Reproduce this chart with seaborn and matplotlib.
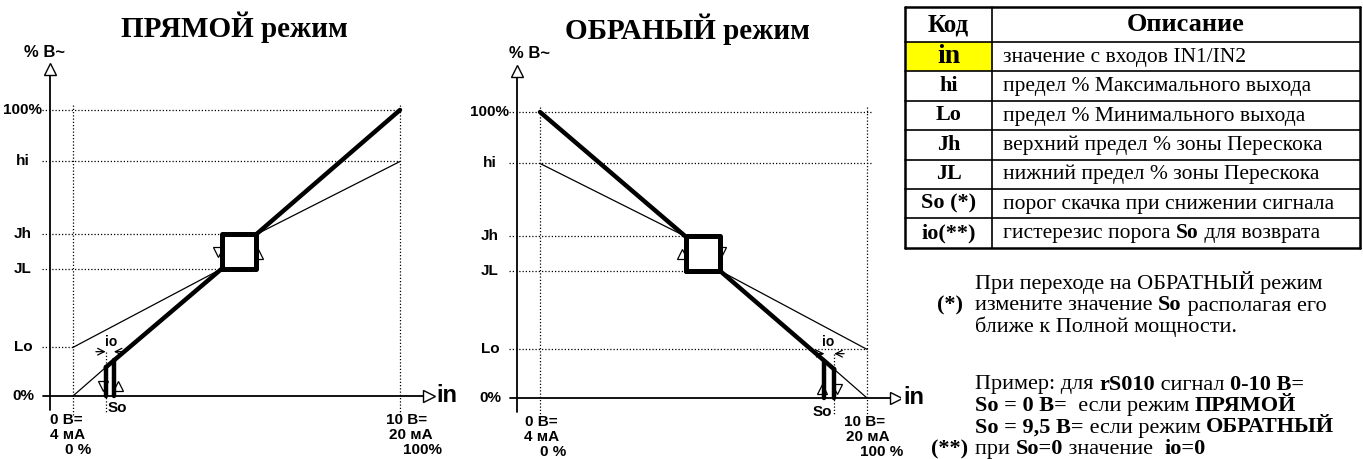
import numpy as np
import pandas as pd
import matplotlib.pyplot as plt
import seaborn as sns

sns.set_theme(style='white')
plt.rcParams['font.family'] = ['Liberation Sans', 'DejaVu Sans']

W, H = 1363, 459
SX, SY = 32.7, 2.86   # pixels per input unit / per percent of output

# output levels on the vertical axis (% of output)
level_labels = ['100%', 'hi', 'Jh', 'JL', 'Lo', '0%']
level_values = [100, 82, 56.5, 44.5, 17, 0]

# ---- direct mode (ПРЯМОЙ) ----
direct_box = [4.55, 5.6]
direct_so = [1.0, 1.25]
direct_thick_seg = [0, 0, 1, 1, 2, 2, 3, 3]
direct_thick_x = [1.0, 4.55, 5.6, 10, 1.0, 1.0, 1.25, 1.25]
direct_thick_y = [10, 44.5, 56.5, 100, 0, 10, 0, 12.5]
direct_thin_seg = [0, 0, 1, 1, 2, 2]
direct_thin_x = [0, 1.0, 0, 4.55, 5.6, 10]
direct_thin_y = [0, 10, 17, 44.5, 56.5, 82]
direct_tri_x = [0.93, 1.39, 4.42, 5.67]
direct_tri_y = [3.5, 3.5, 50.5, 49.8]
direct_tri_m = ['v', '^', 'v', '^']

# ---- inverse mode (ОБРАТНЫЙ) ----
inverse_box = [4.45, 5.5]
inverse_so = [8.7, 9.0]
inverse_thick_seg = [0, 0, 1, 1, 2, 2, 3, 3]
inverse_thick_x = [0, 4.45, 5.5, 9.0, 8.7, 8.7, 9.0, 9.0]
inverse_thick_y = [100, 56.5, 44.5, 10, 0, 13, 0, 10]
inverse_thin_seg = [0, 0, 1, 1, 2, 2]
inverse_thin_x = [0, 4.45, 5.5, 10, 9.0, 10]
inverse_thin_y = [82, 56.5, 44.5, 17, 10, 0]
inverse_tri_x = [8.62, 9.08, 4.34, 5.55]
inverse_tri_y = [3.2, 3.2, 50.2, 51.0]
inverse_tri_m = ['^', 'v', '^', 'v']

# ---- table ----
codes = ['in', 'hi', 'Lo', 'Jh', 'JL', 'So (*)', 'io(**)']
descriptions = [
    [('значение с входов IN1/IN2', False)],
    [('предел % Максимального выхода', False)],
    [('предел % Минимального выхода', False)],
    [('верхний предел % зоны Перескока', False)],
    [('нижний предел % зоны Перескока', False)],
    [('порог скачка при снижении сигнала', False)],
    [('гистерезис порога ', False), ('So', True), (' для возврата', False)],
]

notes = [
    [('При переходе на ОБРАТНЫЙ режим', False)],
    [('измените значение ', False), ('So', True), (' располагая его', False)],
    [('ближе к Полной мощности.', False)],
    [('Пример: для ', False), ('rS010', True), (' сигнал ', False), ('0-10 В=', True)],
    [('So = 0 В=', True), ('  если режим ', False), ('ПРЯМОЙ', True)],
    [('So = 9,5 В=', True), (' если режим ', False), ('ОБРАТНЫЙ', True)],
    [('при ', False), ('So=0', True), (' значение  ', False), ('io=0', True)],
]

SERIF = ['Liberation Serif', 'DejaVu Serif']
BOLD_SANS = dict(fontweight='bold', color='black')


def rich(ax, x, y, parts, size):
    s, b = parts[0]
    t = ax.text(x, y, s, family=SERIF, fontsize=size, va='bottom', ha='left',
                fontweight='bold' if b else 'normal', color='black')
    for s, b in parts[1:]:
        t = ax.annotate(s, xy=(1, 0), xycoords=t, va='bottom', ha='left',
                        family=SERIF, fontsize=size,
                        fontweight='bold' if b else 'normal', color='black')


def chart(fig, bx0, x0, y0, title, title_x, box, so, so_dot, thick, thin, tri,
          dotted_ends, label_pos):
    ax = fig.add_axes([bx0 / W, 0, 450 / W, 1])
    ax.set_xlim((bx0 - x0) / SX, (bx0 + 450 - x0) / SX)
    ax.set_ylim((y0 - H) / SY, y0 / SY)
    ax.axis('off')

    dot = dict(color='black', lw=0.9, ls=(0, (1, 1.6)), zorder=1)
    lv = dict(zip(level_labels, level_values))
    # dotted reference lines
    for lab, val in zip(level_labels, level_values):
        if lab == '0%':
            continue
        ax.plot([-0.95, dotted_ends.get(lab, 10)], [val, val], **dot)
    for xv in (0, 10):
        ax.plot([xv, xv], [-6.5, 102], **dot)
    ax.plot([so_dot, so_dot], [15.5, -6], **dot)

    # axes with hollow arrow heads
    ax.plot([-0.69, -0.69], [-5, 112], color='black', lw=1.3, zorder=2)
    ax.plot([-0.92, 10.75], [0, 0], color='black', lw=1.3, zorder=2)
    ax.plot([-0.69], [114.5], marker='^', ms=9, mfc='white', mec='black', mew=1, zorder=3)
    ax.plot([10.88], [0], marker='>', ms=9, mfc='white', mec='black', mew=1, zorder=3)

    # thin and thick characteristic lines
    sns.lineplot(data=thin, x='x', y='y', units='seg', estimator=None, sort=False,
                 color='black', lw=0.9, ax=ax, zorder=4)
    sns.lineplot(data=thick, x='x', y='y', units='seg', estimator=None, sort=False,
                 color='black', lw=3.2, ax=ax, zorder=6)
    box_df = pd.DataFrame({'x': [box[0], box[1], box[1], box[0], box[0]],
                           'y': [lv['JL'], lv['JL'], lv['Jh'], lv['Jh'], lv['JL']]})
    sns.lineplot(data=box_df, x='x', y='y', sort=False, estimator=None,
                 color='black', lw=3.6, ax=ax, zorder=7)
    ax.fill_between(box, lv['JL'], lv['Jh'], color='white', zorder=5)

    for xv, yv, m in zip(*tri):
        ax.plot([xv], [yv], marker=m, ms=7.5, mfc='white', mec='black', mew=0.9, zorder=3)

    # io hysteresis arrows
    ar = dict(arrowstyle='->', lw=0.9, color='black', shrinkA=0, shrinkB=0,
              mutation_scale=12)
    ax.annotate('', xy=(so[0], 15.5), xytext=(so[0] - 0.3, 15.5), arrowprops=ar, zorder=8)
    ax.annotate('', xy=(so[1], 15.5), xytext=(so[1] + 0.3, 15.5), arrowprops=ar, zorder=8)

    # text
    ax.text(title_x, 129, title, family=SERIF, fontsize=21, fontweight='bold',
            ha='center', va='center', color='black')
    for lab, val in zip(level_labels, level_values):
        ax.text(-1.53, val, lab, fontsize=11, ha='center', va='center', **BOLD_SANS)
    for px, py, s, ha, fs in label_pos:
        ax.text(px, py, s, fontsize=fs, ha=ha, va='center', **BOLD_SANS)
    return ax


def seg_df(seg, x, y):
    return pd.DataFrame({'seg': seg, 'x': x, 'y': y})


fig = plt.figure(figsize=(W / 100, H / 100), dpi=100)
fig.patch.set_facecolor('white')

chart(fig, 0, 73, 396, 'ПРЯМОЙ режим', 4.95, direct_box, direct_so, direct_so[0],
      seg_df(direct_thick_seg, direct_thick_x, direct_thick_y),
      seg_df(direct_thin_seg, direct_thin_x, direct_thin_y),
      (direct_tri_x, direct_tri_y, direct_tri_m),
      {'Jh': direct_box[0], 'JL': direct_box[0], 'Lo': 0},
      [(-0.86, 120, '% В~', 'center', 12),
       (-0.70, -8.4, '0 В=', 'left', 11),
       (-0.70, -13.6, '4 мА', 'left', 11),
       (-0.24, -18.9, '0 %', 'left', 11),
       (10.83, -8.4, '10 В=', 'right', 11),
       (11.0, -13.6, '20 мА', 'right', 11),
       (11.28, -18.9, '100%', 'right', 11),
       (11.12, 0, 'in', 'left', 17),
       (1.35, -4.3, 'So', 'center', 11),
       (1.16, 19.0, 'io', 'center', 10)])

chart(fig, 450, 540, 398, 'ОБРАНЫЙ режим', 4.5, inverse_box, inverse_so, inverse_so[1],
      seg_df(inverse_thick_seg, inverse_thick_x, inverse_thick_y),
      seg_df(inverse_thin_seg, inverse_thin_x, inverse_thin_y),
      (inverse_tri_x, inverse_tri_y, inverse_tri_m),
      {'100%': 10.15, 'hi': 10.15, 'Jh': inverse_box[0], 'JL': inverse_box[0], 'Lo': 10},
      [(-0.31, 120.6, '% В~', 'center', 12),
       (-0.46, -8.4, '0 В=', 'left', 11),
       (-0.49, -13.6, '4 мА', 'left', 11),
       (0.0, -18.9, '0 %', 'left', 11),
       (10.55, -8.4, '10 В=', 'right', 11),
       (10.7, -13.6, '20 мА', 'right', 11),
       (11.1, -18.9, '100 %', 'right', 11),
       (11.12, 0, 'in', 'left', 17),
       (8.65, -4.9, 'So', 'center', 11),
       (8.81, 19.6, 'io', 'center', 10)])

# ---- table and notes (pixel coordinates) ----
ax_t = fig.add_axes([0, 0, 1, 1])
ax_t.set_xlim(0, W)
ax_t.set_ylim(H, 0)
ax_t.axis('off')

tx = [905, 992, 1360]
row_h = 29.4
ty = [7, 42] + [42 + row_h * (i + 1) for i in range(len(codes))]
ax_t.add_patch(plt.Rectangle((tx[0], ty[1]), tx[1] - tx[0], row_h,
                             facecolor='#FFFF00', edgecolor='none', zorder=1))
for i, yv in enumerate(ty):
    ax_t.plot([tx[0], tx[2]], [yv, yv], color='black',
              lw=1.8 if i in (0, len(ty) - 1) else 1.2, zorder=2)
for i, xv in enumerate(tx):
    ax_t.plot([xv, xv], [ty[0], ty[-1]], color='black', lw=1.8 if i != 1 else 1.2, zorder=2)

ax_t.text((tx[0] + tx[1]) / 2, (ty[0] + ty[1]) / 2, 'Код', family=SERIF, fontsize=18,
          fontweight='bold', ha='center', va='center', color='black')
ax_t.text(1186, (ty[0] + ty[1]) / 2, 'Описание', family=SERIF, fontsize=19,
          fontweight='bold', ha='center', va='center', color='black')
for i, (code, desc) in enumerate(zip(codes, descriptions)):
    yc = (ty[i + 1] + ty[i + 2]) / 2
    ax_t.text((tx[0] + tx[1]) / 2, yc, code, family=SERIF,
              fontsize=20 if code == 'in' else 16, fontweight='bold',
              ha='center', va='center', color='black', zorder=3)
    rich(ax_t, 1003, yc + 10, desc, 15.5)

note_y = [284, 305.5, 327, 384.5, 406, 427.5, 449]
for yv, parts in zip(note_y, notes):
    rich(ax_t, 975, yv + 10, parts, 16)
ax_t.text(950, note_y[1], '(*)', family=SERIF, fontsize=16, fontweight='bold',
          ha='center', va='center', color='black')
ax_t.text(950, note_y[-1], '(**)', family=SERIF, fontsize=16, fontweight='bold',
          ha='center', va='center', color='black')

fig.savefig('out.png', dpi=100, facecolor='white')
